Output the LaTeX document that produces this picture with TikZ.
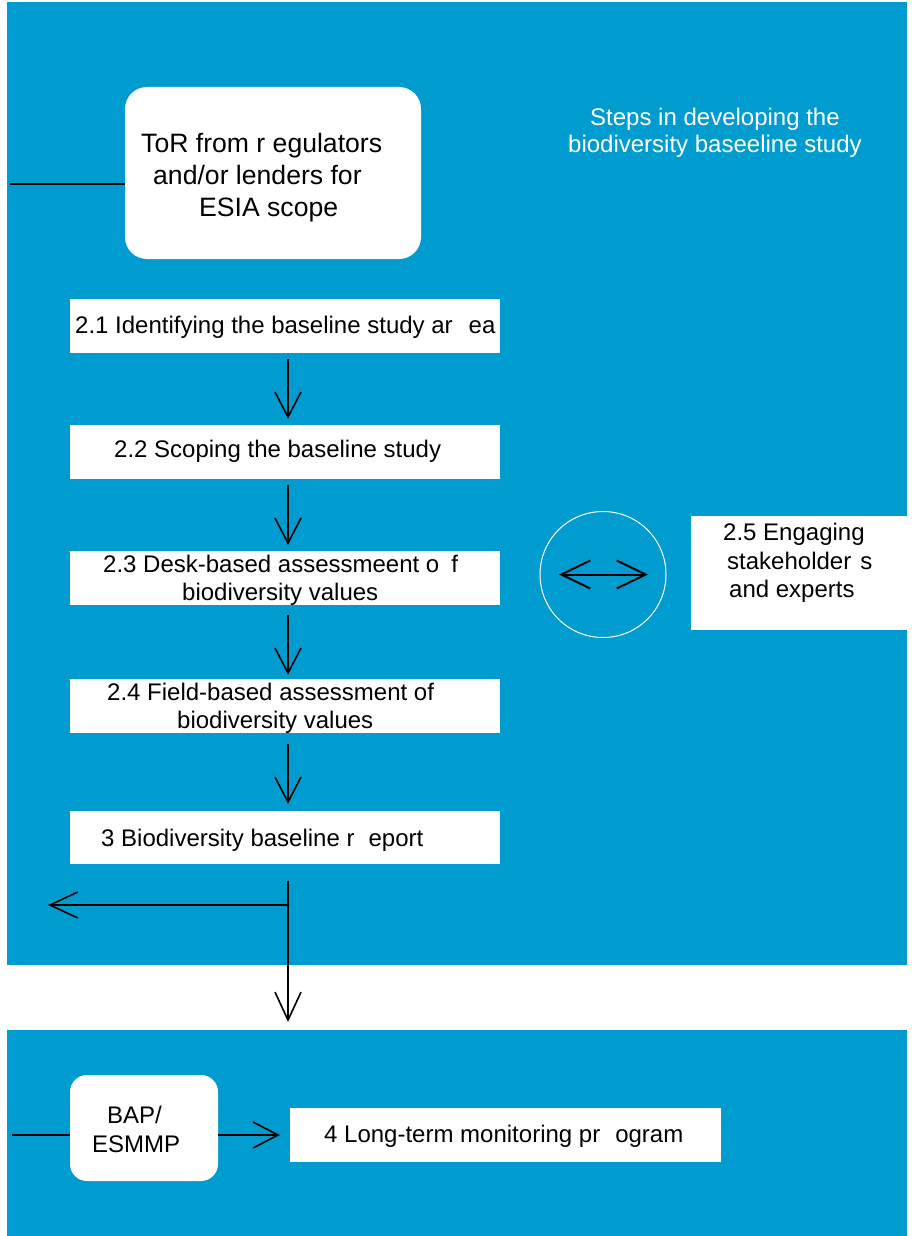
\documentclass[tikz,border=0pt]{standalone}
\usepackage{fontspec}
\setmainfont{Liberation Sans}
\usetikzlibrary{arrows.meta}
\definecolor{panel}{RGB}{0,156,207}
\tikzset{
  panelbg/.style={fill=panel, draw=none},
  box/.style={rectangle, fill=white, draw=none, inner sep=0pt},
  rbox/.style={box, rounded corners=22pt},
  lbl/.style={font=\fontsize{24}{28}\selectfont, text=black, inner sep=0pt, anchor=base west},
  biglbl/.style={lbl, font=\fontsize{26.6}{32}\selectfont},
  wlbl/.style={lbl, text=white},
  conn/.style={draw=black, line width=1.6pt},
  arr/.style={conn, -{Straight Barb[length=25pt,width=26pt]}},
  longarr/.style={conn, -{Straight Barb[length=28pt,width=26pt]}},
  dblarr/.style={conn, line width=2pt, {Straight Barb[length=29pt,width=28pt]}-{Straight Barb[length=29pt,width=28pt]}},
}
\begin{document}
\begin{tikzpicture}[x=1pt,y=-1pt]
\useasboundingbox (0,0) rectangle (912,1236);
\fill[white] (0,0) rectangle (912,1236);
% panels
\fill[panelbg] (7,2) rectangle (907,965);
\fill[panelbg] (7,1030) rectangle (907,1236);

% boxes
\node[rbox, minimum width=296pt, minimum height=172pt] (tor) at (273,173) {};
\node[box, minimum width=430pt, minimum height=54pt] (b21) at (285,326) {};
\node[box, minimum width=430pt, minimum height=54pt] (b22) at (285,452) {};
\node[box, minimum width=430pt, minimum height=54pt] (b23) at (285,578) {};
\node[box, minimum width=430pt, minimum height=54pt] (b24) at (285,706) {};
\node[box, minimum width=430pt, minimum height=53pt] (b3) at (285,837.5) {};
\node[box, minimum width=216pt, minimum height=114pt] (b25) at (799,573) {};
\node[circle, draw=white, line width=1pt, minimum size=126pt, inner sep=0pt] (circ) at (603,574.5) {};
\node[rbox, rounded corners=17pt, minimum width=148pt, minimum height=106pt] (bap) at (144,1128) {};
\node[box, minimum width=431pt, minimum height=54pt] (b4) at (505.5,1135) {};

% texts
\node[biglbl] (t0a) at (141,152) {ToR from r egulators};
\node[biglbl] (t0b) at (153,184) {and/or lenders for};
\node[biglbl] (t0c) at (199,216) {ESIA scope};
\node[wlbl] (s1) at (590,125) {Steps in developing the};
\node[wlbl] (s2) at (568,153) {biodiversity baseeline study};
\node[lbl] (t21) at (75,333) {2.1 Identifying the baseline study ar\hspace{16pt}ea};
\node[lbl] (t22) at (114,457) {2.2 Scoping the baseline study};
\node[lbl] (t23a) at (103,572) {2.3 Desk-based assessmeent o\hspace{12pt}f};
\node[lbl] (t23b) at (182,600) {biodiversity values};
\node[lbl] (t24a) at (107,700) {2.4 Field-based assessment of};
\node[lbl] (t24b) at (177,728) {biodiversity values};
\node[lbl] (t3) at (101,846) {3 Biodiversity baseline r\hspace{14pt}eport};
\node[lbl] (t25a) at (723,540) {2.5 Engaging};
\node[lbl] (t25b) at (727,569) {stakeholder\hspace{9pt}s};
\node[lbl] (t25c) at (729,597) {and experts};
\node[lbl] (tbapa) at (107,1123) {BAP/};
\node[lbl] (tbapb) at (92,1152) {ESMMP};
\node[lbl] (t4) at (324,1142) {4 Long-term monitoring pr\hspace{15pt}ogram};

% free-end coordinates
\coordinate (torin) at (10,184);
\coordinate (split) at (288,905);
\coordinate (leftend) at (48,905);
\coordinate (downend) at (288,1022);
\coordinate (bapin) at (12,1135);

% connectors
\draw[conn] (torin) -- (torin -| tor.west);
\draw[arr, shorten <=6pt, shorten >=6pt] ([xshift=3pt]b21.south) -- ([xshift=3pt]b22.north);
\draw[arr, shorten <=6pt, shorten >=6pt] ([xshift=3pt]b22.south) -- ([xshift=3pt]b23.north);
\draw[arr, shorten <=10pt, shorten >=4pt] ([xshift=3pt]b23.south) -- ([xshift=3pt]b24.north);
\draw[arr, shorten <=11pt, shorten >=7pt] ([xshift=3pt]b24.south) -- ([xshift=3pt]b3.north);
\draw[longarr, shorten <=17pt] ([xshift=3pt]b3.south) -- (downend);
\draw[longarr] (split) -- (leftend);
\draw[dblarr] ([xshift=-44pt]circ.center) -- ([xshift=45pt]circ.center);
\draw[conn] (bapin) -- (bapin -| bap.west);
\draw[arr, shorten >=10pt] (bap.east |- b4.west) -- (b4.west);
\end{tikzpicture}
\end{document}
